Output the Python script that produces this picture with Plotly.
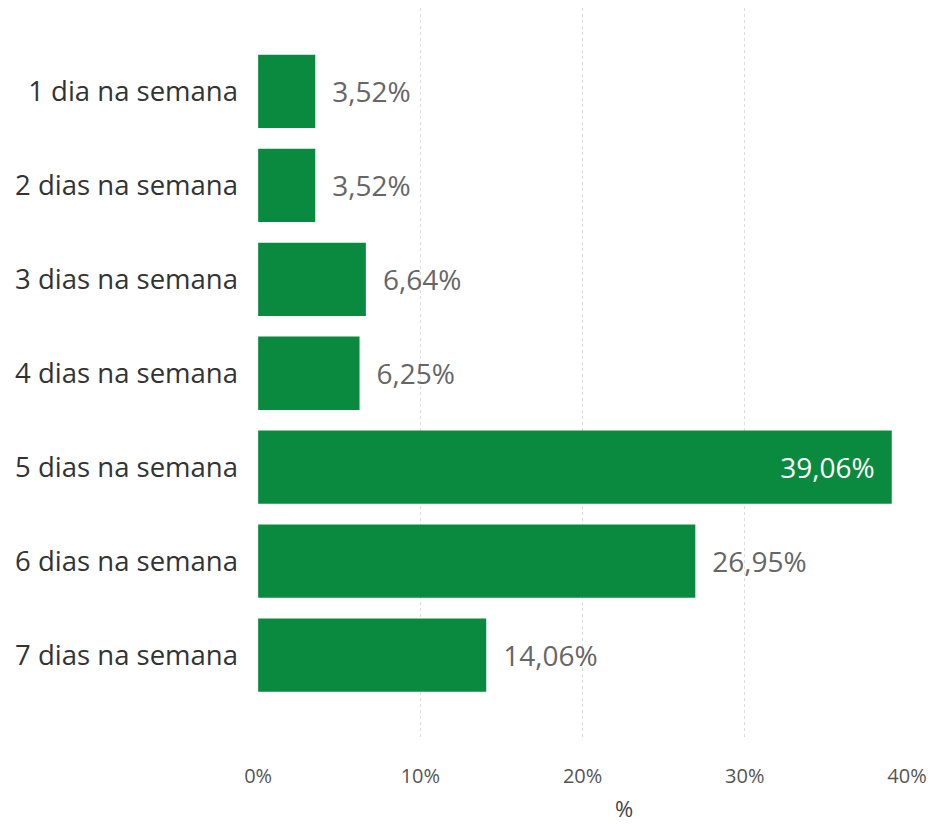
import plotly.graph_objects as go

categories = ["1 dia na semana", "2 dias na semana", "3 dias na semana", "4 dias na semana",
              "5 dias na semana", "6 dias na semana", "7 dias na semana"]
values = [3.52, 3.52, 6.64, 6.25, 39.06, 26.95, 14.06]
labels = ["3,52%", "3,52%", "6,64%", "6,25%", "39,06%", "26,95%", "14,06%"]
tick_vals = [0, 10, 20, 30, 40]
tick_text = ["0%", "10%", "20%", "30%", "40%"]

positions = ["inside" if v > 30 else "outside" for v in values]
texts = [l + "\u2002" if p == "inside" else "\u2002" + l for l, p in zip(labels, positions)]

FONT = "Open Sans, sans-serif"

fig = go.Figure(go.Bar(
    x=values, y=categories, orientation="h",
    marker=dict(color="#0A8A3E", line=dict(width=0)),
    text=texts, textposition=positions,
    insidetextanchor="end",
    insidetextfont=dict(color="white", size=28, family=FONT),
    outsidetextfont=dict(color="#666666", size=28, family=FONT),
    cliponaxis=False,
    width=0.78,
))

fig.update_layout(
    width=936, height=824,
    margin=dict(l=250, r=37, t=0, b=92),
    paper_bgcolor="white", plot_bgcolor="white",
    showlegend=False,
    font=dict(family=FONT),
    xaxis=dict(range=[-0.01, 40], tickvals=tick_vals, ticktext=tick_text,
               showgrid=True, gridcolor="#dcdcdc", griddash="dot", gridwidth=1,
               zeroline=False, showline=False, automargin=False,
               tickfont=dict(size=20, color="#555555", family=FONT), ticks="outside",
               ticklen=18, tickcolor="rgba(0,0,0,0)"),
    yaxis=dict(categoryorder="array", categoryarray=categories,
               range=[6.904, -0.888], showgrid=False, zeroline=False, showline=False,
               automargin=False,
               tickfont=dict(size=27.5, color="#333333", family=FONT), ticks="",
               ticklabelstandoff=19),
    annotations=[dict(text="%", xref="paper", yref="paper", x=0.564, y=-0.093,
                      showarrow=False, font=dict(size=22, color="#444444", family=FONT),
                      yanchor="middle")],
)

fig.write_html("out.html")
